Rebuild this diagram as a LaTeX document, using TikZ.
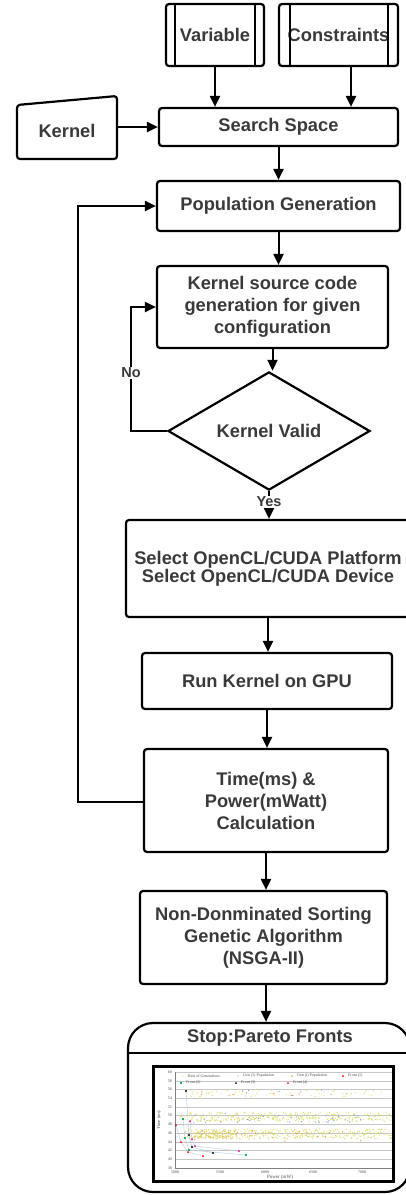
\documentclass[tikz,border=0pt]{standalone}
\usepackage{fontspec}
\setmainfont{Liberation Sans}
\newfontfamily\chartfont{Liberation Serif}
\usetikzlibrary{arrows.meta,shapes.geometric,calc}
\definecolor{txt}{HTML}{3A3A3A}
\definecolor{ylw}{rgb}{0.85,0.85,0.35}
\definecolor{gblue}{rgb}{0.45,0.6,0.85}
\definecolor{gorange}{rgb}{0.95,0.6,0.2}
\definecolor{fgreen}{rgb}{0.1,0.7,0.4}
\definecolor{fline}{rgb}{0.7,0.8,0.85}
\begin{document}
\begin{tikzpicture}[x=1pt,y=-1pt,
  box/.style={draw=black, line width=2.2pt, rounded corners=3pt, text=txt,
    font=\bfseries\fontsize{18.3}{22}\selectfont, align=center, inner sep=0pt},
  arr/.style={line width=2pt, -{Triangle[length=11pt,width=10pt]}},
  lab/.style={text=txt, font=\bfseries\fontsize{14.5}{17}\selectfont, fill=white, inner sep=1pt},
  ctext/.style={font=\chartfont\fontsize{4}{4.5}\selectfont, text=black!70, inner sep=0pt}]
\useasboundingbox (0,0) rectangle (406,1195);
\clip (0,0) rectangle (406,1195);

% top inputs
\node[box, minimum width=98pt, minimum height=62pt] (var) at (215,35) {Variable};
\draw[line width=2.2pt] ([xshift=10pt]var.north west) -- ([xshift=10pt]var.south west);
\draw[line width=2.2pt] ([xshift=-10pt]var.north east) -- ([xshift=-10pt]var.south east);
\node[box, minimum width=119pt, minimum height=62pt] (cons) at (338.5,35) {Constraints};
\draw[line width=2.2pt] ([xshift=12pt]cons.north west) -- ([xshift=12pt]cons.south west);
\draw[line width=2.2pt] ([xshift=-11pt]cons.north east) -- ([xshift=-11pt]cons.south east);

% kernel manual input
\draw[line width=2.2pt, rounded corners=3pt] (17,105) -- (117,96) -- (117,159) -- (17,159) -- cycle;
\node[text=txt, font=\bfseries\fontsize{18.3}{22}\selectfont, inner sep=0pt, minimum width=100pt] (kern) at (67,131) {Kernel};

% main flow
\node[box, minimum width=239pt, minimum height=38pt] (srch) at (278.5,127) {Search Space};
\node[box, minimum width=243pt, minimum height=50pt] (pop) at (278.5,206) {Population Generation};
\node[box, minimum width=231pt, minimum height=82pt] (ksrc) at (272.5,307) {Kernel source code\\generation for given\\configuration};
\node[draw=black, diamond, line width=2.2pt, minimum width=202pt, minimum height=88pt, inner sep=0pt,
  text=txt, font=\bfseries\fontsize{18.3}{22}\selectfont] (dia) at (269,431) {Kernel Valid};
\node[box, minimum width=284pt, minimum height=97pt, font=\bfseries\fontsize{18.3}{18}\selectfont] (sel) at (268,568.5) {Select OpenCL/CUDA Platform\\Select OpenCL/CUDA Device};
\node[box, minimum width=250pt, minimum height=56pt] (run) at (267,681) {Run Kernel on GPU};
\node[box, minimum width=244pt, minimum height=103pt] (time) at (266,800.5) {Time(ms) \&\\Power(mWatt)\\Calculation};
\node[box, minimum width=247pt, minimum height=93pt] (nsga) at (263.5,937.5) {Non-Donminated Sorting\\Genetic Algorithm\\(NSGA-II)};
\node[draw=black, line width=2.2pt, rounded corners=25pt, minimum width=282pt, minimum height=169pt, inner sep=0pt] (stop) at (269,1107.5) {};
\draw[line width=2.2pt] (stop.west |- 0,1053) -- (stop.east |- 0,1053);
\node[text=txt, font=\bfseries\fontsize{18.3}{22}\selectfont, inner sep=0pt] (stoptitle) at (270,1038) {Stop:Pareto Fronts};

% connectors
\draw[arr] (var.south) -- (var.south |- srch.north);
\draw[arr] ([xshift=12.5pt]cons.south) -- ([xshift=12.5pt]cons.south |- srch.north);
\draw[arr] (kern.east |- srch.west) -- (srch.west);
\draw[arr] (srch.south) -- (srch.south |- pop.north);
\draw[arr] (pop.south) -- (pop.south |- ksrc.north);
\draw[arr] (ksrc.south) -- (ksrc.south |- dia.north);
\draw[arr] (dia.south) -- node[lab, pos=0.38] (yes) {Yes} (dia.south |- sel.north);
\draw[arr] (sel.south) -- (sel.south |- run.north);
\draw[arr] (run.south) -- (run.south |- time.north);
\draw[arr] (time.south) -- (time.south |- nsga.north);
\draw[arr] (time.south |- nsga.south) -- (time.south |- stop.north);
\coordinate (nol) at (131,431);
\draw[arr] (dia.west) -- (nol) |- (ksrc.west);
\node[lab] (no) at (131,373) {No};
\coordinate (lp) at (78,802);
\draw[arr] (time.west |- lp) -- (lp) |- (pop.west);

% chart
\node[draw=black, fill=white, line width=2pt, minimum width=239pt, minimum height=114pt, inner sep=0pt] (chart) at (273.5,1124) {};
\begin{scope}
\clip (155,1068) rectangle (392,1180);
\foreach \k in {0,...,11} {
  \draw[gray!45, line width=0.35pt] (175,1072+\k*8.73) -- (392,1072+\k*8.73);
}
\foreach \k/\v in {0/60,1/58,2/56,3/54,4/52,5/50,6/48,7/46,8/44,9/42,10/40,11/38} {
  \node[ctext, anchor=east] at (172,1072+\k*8.73) {\v};
}
\draw[gray, line width=0.4pt] (175,1072) -- (175,1168) -- (392,1168);
\foreach \xx/\v in {175/5000,220/5500,265/6000,313/6500,362/7000} {
  \node[ctext] at (\xx,1172) {\v};
}
\node[ctext, font=\chartfont\fontsize{5}{5}\selectfont] at (280,1177.5) {Power (mW)};
\node[ctext, rotate=90, font=\chartfont\fontsize{4.5}{5}\selectfont] at (159,1120) {Time (ms)};

\pgfmathsetseed{7}
% top sparse
\foreach \i in {1,...,70} {
  \pgfmathsetmacro\px{185+205*rnd}\pgfmathsetmacro\py{1093+3.5*rand}
  \fill[ylw] (\px,\py) circle (0.55pt);
}
% band A
\foreach \i in {1,...,380} {
  \pgfmathsetmacro\px{180+212*rnd}\pgfmathsetmacro\py{1117+4.5*rand}
  \fill[ylw] (\px,\py) circle (0.55pt);
}
% band B
\foreach \i in {1,...,420} {
  \pgfmathsetmacro\px{185+207*rnd}\pgfmathsetmacro\py{1134+5*rand}
  \fill[ylw] (\px,\py) circle (0.55pt);
}
\foreach \i in {1,...,130} {
  \pgfmathsetmacro\px{214+20*rand}\pgfmathsetmacro\py{1134+4.5*rand}
  \fill[ylw!85!orange] (\px,\py) circle (0.55pt);
}
% gen 1 (blue)
\foreach \i in {1,...,35} {
  \pgfmathsetmacro\px{190+180*rnd}\pgfmathsetmacro\py{1118+5*rand}
  \fill[gblue] (\px,\py) circle (0.6pt);
}
\foreach \i in {1,...,8} {
  \pgfmathsetmacro\px{200+140*rnd}\pgfmathsetmacro\py{1093+3*rand}
  \fill[gblue] (\px,\py) circle (0.6pt);
}
% gen i (orange)
\foreach \i in {1,...,25} {
  \pgfmathsetmacro\px{190+200*rnd}\pgfmathsetmacro\py{1136+6*rand}
  \fill[gorange] (\px,\py) circle (0.7pt);
}
\foreach \i in {1,...,10} {
  \pgfmathsetmacro\px{200+150*rnd}\pgfmathsetmacro\py{1093+3*rand}
  \fill[gorange] (\px,\py) circle (0.7pt);
}
% fronts
\draw[fline, line width=0.4pt] (183,1119) -- (185,1138) -- (189,1150) -- (246,1155);
\draw[fline, line width=0.4pt] (186,1091) -- (189,1135) -- (192,1147) -- (213,1153);
\draw[fline, line width=0.4pt] (176,1125) -- (181,1142) -- (188,1152) -- (203,1156);
\draw[fline, line width=0.4pt] (190,1121) -- (192,1139) -- (195,1146) -- (239,1151);
\foreach \p in {(183,1119),(185,1138),(189,1150),(246,1155)} \fill[fgreen] \p ++(-1.2,-1.2) rectangle ++(2.4,2.4);
\foreach \p in {(186,1091),(189,1135),(192,1147),(213,1153)} \fill[black] \p circle (1.1pt);
\foreach \p in {(176,1125),(181,1142),(188,1152),(203,1156)} \fill[red] \p circle (1pt);
\foreach \p in {(190,1121),(192,1139),(195,1146),(239,1151)} \fill[magenta] \p circle (1pt);
% legend
\fill[ylw] (183,1076) circle (0.6pt);
\node[ctext, anchor=west] at (188,1076) {Rest of Generations};
\fill[gblue] (238,1076) circle (0.7pt);
\node[ctext, anchor=west] at (243,1076) {Gen (1) Population};
\fill[gorange] (292,1076) circle (0.8pt);
\node[ctext, anchor=west] at (297,1076) {Gen (i) Population};
\fill[red] (343,1076) circle (1pt);
\node[ctext, anchor=west] at (348,1076) {Front (1)};
\fill[fgreen] (180,1082) rectangle (182.4,1084.4);
\node[ctext, anchor=west] at (186,1083) {Front (2)};
\fill[black] (236,1083) circle (1pt);
\node[ctext, anchor=west] at (241,1083) {Front (3)};
\fill[magenta] (288,1083) circle (1pt);
\node[ctext, anchor=west] at (293,1083) {Front (4)};
\end{scope}
\draw[line width=2pt] (chart.north west) rectangle (chart.south east);
\end{tikzpicture}
\end{document}
